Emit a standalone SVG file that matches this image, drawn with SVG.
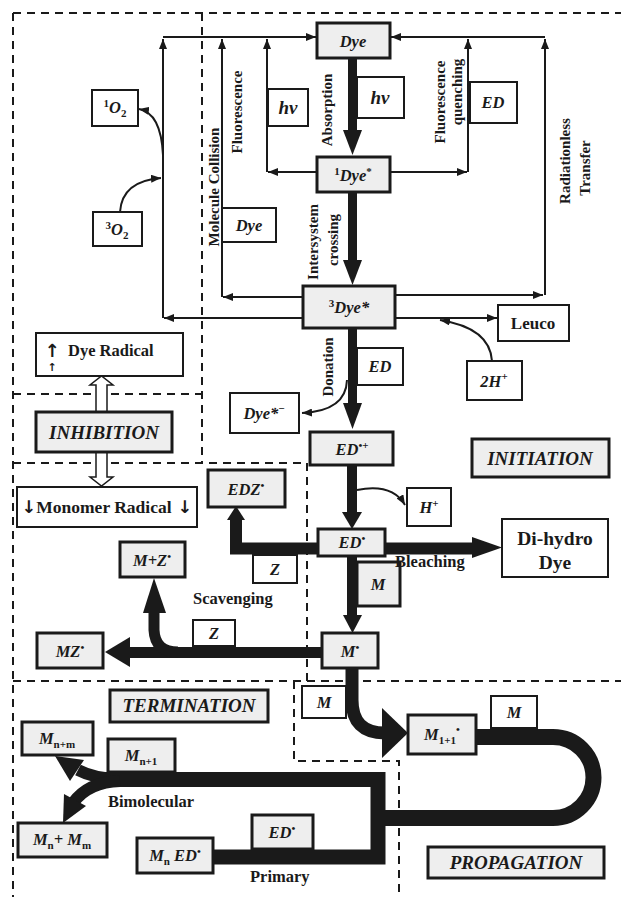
<svg xmlns="http://www.w3.org/2000/svg" width="621" height="897" viewBox="0 0 621 897">
<style>
.g{fill:#eeeeee;stroke:#1a1a1a;stroke-width:3}
.w{fill:#ffffff;stroke:#1a1a1a;stroke-width:2}
.t{font-family:"Liberation Serif","Times New Roman",serif;font-weight:bold;font-style:italic;font-size:16.5px;text-anchor:middle;fill:#1a1a1a}
.n{font-style:normal}
.s{font-size:11px;font-style:normal}
.big{font-size:19px}
.r{font-family:"Liberation Serif","Times New Roman",serif;font-weight:bold;font-size:15px;text-anchor:middle;fill:#1a1a1a}
.l{font-family:"Liberation Serif","Times New Roman",serif;font-weight:bold;font-size:16.5px;fill:#1a1a1a}
.thin{fill:none;stroke:#1a1a1a;stroke-width:2;marker-end:url(#a)}
.dash{fill:none;stroke:#1a1a1a;stroke-width:2;stroke-dasharray:8 6}
.k{fill:#1a1a1a}
.ks{fill:none;stroke:#1a1a1a}
.h{fill:#ffffff;stroke:#1a1a1a;stroke-width:1.5}
.ar{font-family:"DejaVu Sans",sans-serif;font-weight:bold;text-anchor:middle;fill:#1a1a1a}
.da{font-family:"DejaVu Sans",sans-serif}
</style>
<defs>
<marker id="a" viewBox="0 0 10 8" refX="10" refY="4" markerWidth="10" markerHeight="8" markerUnits="userSpaceOnUse" orient="auto"><path d="M0,0 L10,4 L0,8 z" fill="#1a1a1a"/></marker>
</defs>
<rect width="621" height="897" fill="#ffffff"/>
<g id="regions">
<path class="dash" d="M13 13 H621"/>
<path class="dash" d="M13 13 V897"/>
<path class="dash" d="M202 13 V463"/>
<path class="dash" d="M13 394 H202"/>
<path class="dash" d="M13 463 H307 V681"/>
<path class="dash" d="M13 681 H621"/>
<path class="dash" d="M294 681 V761 H399 V897"/>
</g>
<g id="connectors">
<path class="thin" d="M303 318 H164"/>
<path class="thin" d="M163 318 V39"/>
<path class="thin" d="M163 37 H316"/>
<path class="thin" d="M303 297 H223"/>
<path class="thin" d="M222 297 V39"/>
<path class="thin" d="M317 172 H268"/>
<path class="thin" d="M267 172 V39"/>
<path class="thin" d="M395 295 H543"/>
<path class="thin" d="M545 295 V39"/>
<path class="thin" d="M545 37 H391"/>
<path class="thin" d="M390 172 H467"/>
<path class="thin" d="M468 172 V39"/>
<path class="thin" d="M395 318 H497"/>
<path class="thin" d="M120 212 Q122 181 161 178"/>
<path class="thin" d="M163 155 Q161 113 139 109"/>
<path class="thin" d="M492 361 Q490 328 440 320"/>
<path class="thin" d="M347 380 Q346 411 302 413"/>
<path class="thin" d="M357 490 Q392 483 405 505"/>
<rect class="k" x="348" y="58" width="9" height="73"/>
<polygon class="k" points="343,130 362,130 352.5,155"/>
<rect class="k" x="348" y="192" width="9" height="69"/>
<polygon class="k" points="343,260 362,260 352.5,285"/>
<rect class="k" x="348" y="328" width="9" height="76"/>
<polygon class="k" points="343,403 362,403 352.5,429"/>
<rect class="k" x="347" y="465" width="10" height="48"/>
<polygon class="k" points="342,512 362,512 352,529"/>
<rect class="k" x="347" y="556" width="10" height="60"/>
<polygon class="k" points="343,615 362,615 352.5,633"/>
<path class="ks" stroke-width="12" stroke-linejoin="miter" d="M473 548.5 H236 V519"/>
<polygon class="k" points="227,520 245,520 236,506"/>
<polygon class="k" points="472,537 472,558 502,547.5"/>
<path class="ks" stroke-width="11" d="M322 652.5 H128"/>
<polygon class="k" points="105,652 130,637 130,667"/>
<path class="ks" stroke-width="11" d="M154 612 V630 Q155 652 178 652"/>
<polygon class="k" points="143,613 166,613 154,578"/>
<path class="ks" stroke-width="13" d="M352 668 V700 Q352 733 385 733"/>
<polygon class="k" points="382,708 382,758 408,733"/>
<path class="ks" stroke-width="16" d="M476 737 H553 A40.5 40.5 0 0 1 553 818 H378"/>
<path class="ks" stroke-width="15" stroke-linejoin="miter" d="M213 857 H378 V779.5 H105"/>
<path class="ks" stroke-width="12" d="M120 779 Q95 779 78 770"/>
<polygon class="k" points="55,756 84,760 70,781"/>
<path class="ks" stroke-width="12" d="M120 781 Q88 782 73 803"/>
<polygon class="k" points="63,823 86,806 64,794"/>
<polygon class="h" points="96,412 96,385 90,385 101.5,376 113,385 107,385 107,412"/>
<polygon class="h" points="96,452 96,477 90,477 101.5,486 113,477 107,477 107,452"/>
</g>
<g id="n-dye"><rect class="g" x="317" y="23" width="73" height="35"/><text class="t" x="353" y="47">Dye</text></g>
<g id="n-hv1"><rect class="w" x="357" y="77" width="47" height="41"/><text class="t" x="380" y="104" style="font-size:19px">hν</text></g>
<g id="n-hv2"><rect class="w" x="268" y="89" width="40" height="37"/><text class="t" x="288" y="114" style="font-size:19px">hν</text></g>
<g id="n-1dye"><rect class="g" x="317" y="157" width="73" height="35"/><text class="t" x="353" y="181"><tspan class="s" dy="-6">1</tspan><tspan dy="6">Dye</tspan><tspan class="s" dy="-6">*</tspan></text></g>
<g id="n-dyecol"><rect class="w" x="222" y="208" width="54" height="34"/><text class="t" x="249" y="231">Dye</text></g>
<g id="n-edq"><rect class="w" x="470" y="82" width="47" height="41"/><text class="t" x="493" y="108">ED</text></g>
<g id="n-1o2"><rect class="w" x="92" y="90" width="46" height="36"/><text class="t" x="115" y="113"><tspan class="s" dy="-6">1</tspan><tspan dy="6">O</tspan><tspan class="s" dy="4">2</tspan></text></g>
<g id="n-3o2"><rect class="w" x="93" y="212" width="49" height="34"/><text class="t" x="117" y="235"><tspan class="s" dy="-6">3</tspan><tspan dy="6">O</tspan><tspan class="s" dy="4">2</tspan></text></g>
<g id="n-3dye"><rect class="g" x="303" y="286" width="92" height="42"/><text class="t" x="349" y="313"><tspan class="s" dy="-6">3</tspan><tspan dy="6">Dye*</tspan></text></g>
<g id="n-leuco"><rect class="w" x="498" y="305" width="71" height="36"/><text class="t n" x="533" y="329" style="font-size:17px">Leuco</text></g>
<g id="n-2h"><rect class="w" x="467" y="361" width="55" height="39"/><text class="t" x="494" y="387">2H<tspan class="s" dy="-7">+</tspan></text></g>
<g id="n-edd"><rect class="w" x="357" y="348" width="46" height="37"/><text class="t" x="380" y="372">ED</text></g>
<g id="n-dyeminus"><rect class="w" x="230" y="393" width="69" height="40"/><text class="t" x="264" y="419">Dye*<tspan class="s" dy="-7">−</tspan></text></g>
<g id="n-edplus"><rect class="g" x="310" y="432" width="83" height="33"/><text class="t" x="352" y="455">ED<tspan class="s" dy="-6">•+</tspan></text></g>
<g id="n-h"><rect class="w" x="407" y="488" width="44" height="38"/><text class="t" x="429" y="513">H<tspan class="s" dy="-6">+</tspan></text></g>
<g id="n-initiation"><rect class="g" x="472" y="439" width="137" height="38"/><text class="t big" x="540" y="465">INITIATION</text></g>
<g id="n-edz"><rect class="g" x="208" y="470" width="77" height="37"/><text class="t" x="246" y="495">EDZ<tspan class="s" dy="-6">•</tspan></text></g>
<g id="n-ed"><rect class="g" x="318" y="529" width="67" height="27"/><text class="t" x="352" y="548">ED<tspan class="s" dy="-6">•</tspan></text></g>
<g id="n-z1"><rect class="w" x="253" y="555" width="44" height="28"/><text class="t" x="275" y="575">Z</text></g>
<g id="n-dihydro"><rect class="w" x="502" y="519" width="106" height="58" stroke-width="3"/><text class="t n" x="555" y="545" style="font-size:19.5px">Di-hydro</text><text class="t n" x="555" y="569" style="font-size:19.5px">Dye</text></g>
<g id="n-m1"><rect class="g" x="357" y="562" width="43" height="44"/><text class="t" x="378" y="590">M</text></g>
<g id="n-mz2"><rect class="g" x="120" y="542" width="65" height="35"/><text class="t" x="152" y="566">M+Z<tspan class="s" dy="-6">•</tspan></text></g>
<g id="n-mz"><rect class="g" x="37" y="633" width="66" height="35"/><text class="t" x="70" y="657">MZ<tspan class="s" dy="-6">•</tspan></text></g>
<g id="n-z2"><rect class="w" x="193" y="620" width="42" height="26"/><text class="t" x="214" y="639">Z</text></g>
<g id="n-mdot"><rect class="g" x="322" y="633" width="56" height="35"/><text class="t" x="350" y="657">M<tspan class="s" dy="-6">•</tspan></text></g>
<g id="n-m2"><rect class="w" x="302" y="686" width="44" height="32"/><text class="t" x="324" y="708">M</text></g>
<g id="n-m11"><rect class="g" x="408" y="715" width="68" height="39"/><text class="t" x="442" y="740">M<tspan class="s" dy="4">1+1</tspan><tspan class="s" dy="-11">•</tspan></text></g>
<g id="n-m3"><rect class="w" x="491" y="696" width="46" height="32"/><text class="t" x="514" y="718">M</text></g>
<g id="n-termination"><rect class="g" x="110" y="690" width="158" height="32"/><text class="t big" x="189" y="712">TERMINATION</text></g>
<g id="n-mnm"><rect class="g" x="22" y="722" width="71" height="33"/><text class="t" x="57" y="744">M<tspan class="s" dy="4">n+m</tspan></text></g>
<g id="n-mn1"><rect class="g" x="108" y="739" width="67" height="33"/><text class="t" x="141" y="761">M<tspan class="s" dy="4">n+1</tspan></text></g>
<g id="n-mnmm"><rect class="g" x="18" y="823" width="89" height="34"/><text class="t" x="62" y="845">M<tspan class="s" dy="4">n</tspan><tspan dy="-4">+ M</tspan><tspan class="s" dy="4">m</tspan></text></g>
<g id="n-mned"><rect class="g" x="137" y="838" width="76" height="35"/><text class="t" x="175" y="861">M<tspan class="s" dy="4">n</tspan><tspan dy="-4"> ED</tspan><tspan class="s" dy="-6">•</tspan></text></g>
<g id="n-edp"><rect class="g" x="252" y="815" width="61" height="34"/><text class="t" x="282" y="838">ED<tspan class="s" dy="-6">•</tspan></text></g>
<g id="n-propagation"><rect class="g" x="428" y="847" width="176" height="31"/><text class="t big" x="516" y="869">PROPAGATION</text></g>
<g id="n-dyeradical"><rect class="w" x="36" y="333" width="147" height="43"/><text class="ar" x="52" y="357" style="font-size:18px">↑</text><text class="ar" x="52" y="371" style="font-size:11px">↑</text><text class="t n" x="68" y="356" style="text-anchor:start">Dye Radical</text></g>
<g id="n-inhibition"><rect class="g" x="36" y="412" width="136" height="40"/><text class="t big" x="104" y="439">INHIBITION</text></g>
<g id="n-monomer"><rect class="w" x="17" y="487" width="180" height="40"/><text class="t n" x="107" y="513" style="font-size:17.5px"><tspan class="da">↓</tspan>Monomer Radical<tspan class="da"> ↓</tspan></text></g>
<g id="labels">
<text class="r" transform="translate(219,187) rotate(-90)">Molecule Collision</text>
<text class="r" transform="translate(242,112) rotate(-90)">Fluorescence</text>
<text class="r" transform="translate(332,110) rotate(-90)">Absorption</text>
<text class="r" transform="translate(318,242) rotate(-90)">Intersystem</text>
<text class="r" transform="translate(338,240) rotate(-90)">crossing</text>
<text class="r" transform="translate(333,367) rotate(-90)">Donation</text>
<text class="r" transform="translate(445,102) rotate(-90)">Fluorescence</text>
<text class="r" transform="translate(462,92) rotate(-90)">quenching</text>
<text class="r" transform="translate(570,161) rotate(-90)">Radiationless</text>
<text class="r" transform="translate(590,168) rotate(-90)">Transfer</text>
<text class="l" x="395" y="567">Bleaching</text>
<text class="l" x="193" y="604">Scavenging</text>
<text class="l" x="108" y="807">Bimolecular</text>
<text class="l" x="250" y="882">Primary</text>
</g>
</svg>
